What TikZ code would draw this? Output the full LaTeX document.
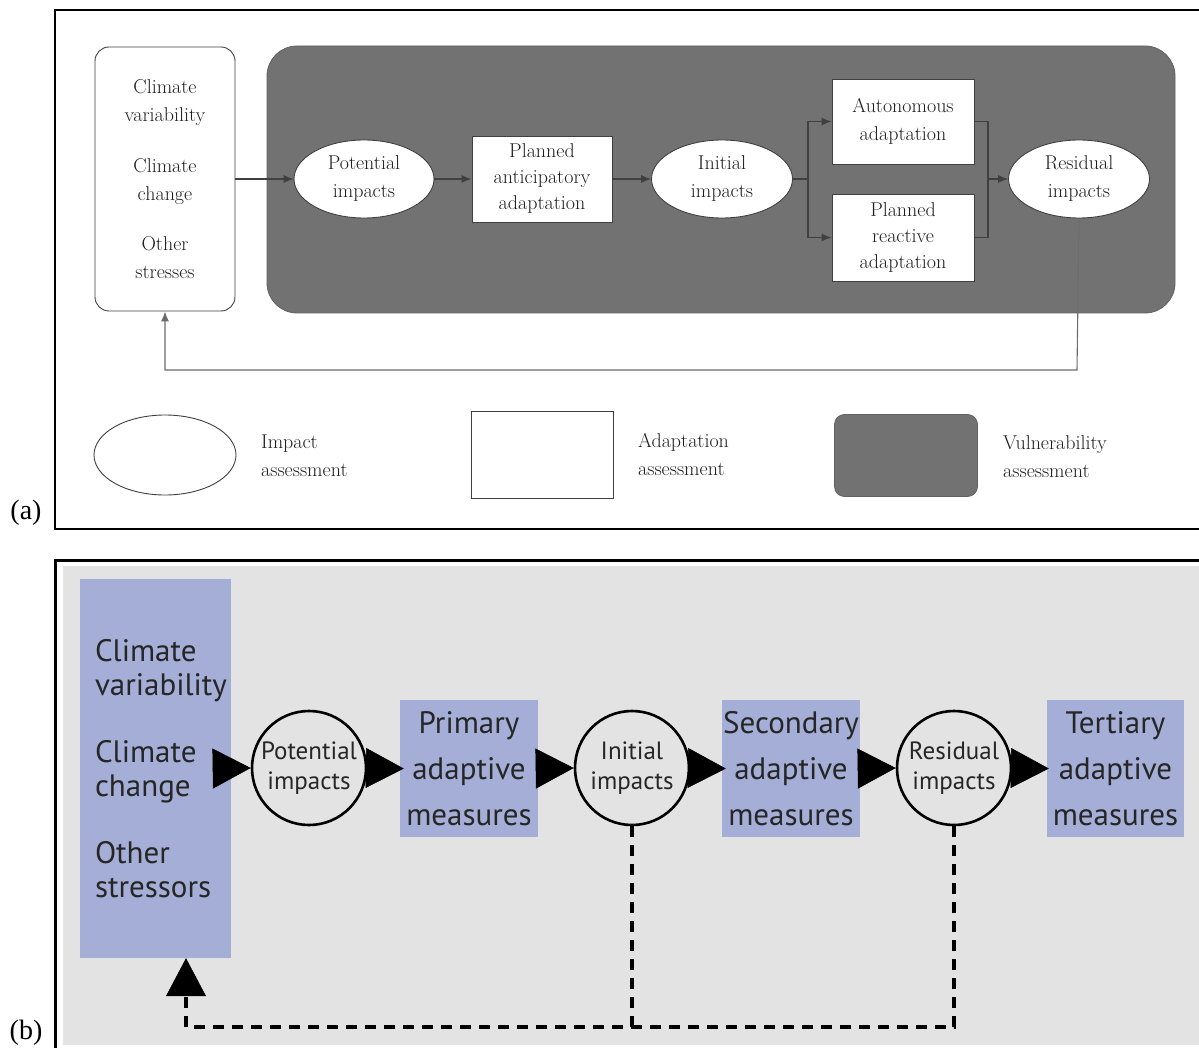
\documentclass[tikz,border=0pt]{standalone}
\usepackage{fontspec}
\newfontfamily\bsans{PT Sans}
\newfontfamily\lblfont{Liberation Serif}
\usetikzlibrary{arrows.meta,shapes.geometric}
\definecolor{vuln}{HTML}{727272}
\definecolor{ink}{HTML}{1E1E1E}
\definecolor{edge}{HTML}{404040}
\definecolor{panelbg}{HTML}{E3E3E3}
\definecolor{measure}{HTML}{A4AED6}

\begin{document}
\begin{tikzpicture}[x=1pt,y=-1pt,
  atext/.style={text=ink, font=\fontsize{20}{28}\selectfont, align=center, inner sep=0pt},
  aimpact/.style={atext, ellipse, draw=edge, line width=0.9pt, fill=white},
  aadapt/.style={atext, rectangle, draw=edge, line width=0.9pt, fill=white},
  avuln/.style={rectangle, fill=vuln, draw=vuln!85!black, line width=0.8pt},
  alink/.style={draw=edge, line width=1.1pt},
  aarrow/.style={alink, -{Latex[length=10pt,width=8pt]}},
  afeed/.style={draw=gray!85!black, line width=1.1pt, -{Latex[length=10pt,width=8pt]}},
  btext/.style={text=black!85, font=\bsans\fontsize{31}{46}\selectfont, align=center, inner sep=0pt},
  bmeasure/.style={btext, rectangle, fill=measure, minimum width=138, minimum height=137},
  bimpact/.style={circle, draw=black, line width=2.6pt, minimum size=114, inner sep=0pt,
    text=black!85, font=\bsans\fontsize{25}{30}\selectfont, align=center},
  barrow/.style={line width=0.5pt, -{Triangle[length=38pt,width=40pt]}},
  bfeed/.style={line width=3.2pt, dash pattern=on 11pt off 8pt},
  panellabel/.style={font=\lblfont\fontsize{28}{30}\selectfont, inner sep=0pt}
]
\useasboundingbox (0,0) rectangle (1199,1048);

% ---------------- panel (a) ----------------
\draw[line width=2.4pt] (1215,10) -| (55,529) -- (1215,529);
\node[panellabel] (la) at (26,513) {(a)};

% vulnerability assessment region
\node[avuln, rounded corners=30, minimum width=908, minimum height=267] (vul) at (721,179.5) {};

% stresses box
\node[atext, draw=edge, line width=0.9pt, fill=white, rounded corners=14,
      minimum width=140, minimum height=264] (src)
      at (165,179) {Climate\\variability\\[23pt]Climate\\change\\[22pt]Other\\stresses};

\node[aimpact, minimum width=140, minimum height=78] (pot) at (364,179) {Potential\\impacts};
\node[aadapt, minimum width=140, minimum height=86, font=\fontsize{20}{26}\selectfont] (ant) at (542,179) {Planned\\anticipatory\\adaptation};
\node[aimpact, minimum width=141, minimum height=78] (ini) at (722,179) {Initial\\impacts};
\node[aadapt, minimum width=142, minimum height=85] (aut) at (903,121.5) {Autonomous\\adaptation};
\node[aadapt, minimum width=142, minimum height=87, font=\fontsize{20}{26}\selectfont] (rea) at (903,237.5) {Planned\\reactive\\adaptation};
\node[aimpact, minimum width=141, minimum height=78] (res) at (1079,179) {Residual\\impacts};

\coordinate (split) at (808,179);
\coordinate (join) at (988,179);
\coordinate (loop) at (1077,370);

\draw[aarrow] (src.east) -- (pot.west);
\draw[aarrow] (pot.east) -- (ant.west);
\draw[aarrow] (ant.east) -- (ini.west);
\draw[alink] (ini.east) -- (split);
\draw[aarrow] (split) |- (aut.west);
\draw[aarrow] (split) |- (rea.west);
\draw[alink] (aut.east) -| (join);
\draw[alink] (rea.east) -| (join);
\draw[aarrow] (join) -- (res.west);
\draw[afeed] (res.south) -- (loop) -| (src.south);

% legend
\node[aimpact, minimum width=142, minimum height=80] (lgi) at (165,455) {};
\node[atext, anchor=west, align=left] (lgit) at (261,456) {Impact\\assessment};
\node[aadapt, minimum width=142, minimum height=87] (lga) at (542,454.5) {};
\node[atext, anchor=west, align=left] (lgat) at (638,455) {Adaptation\\assessment};
\node[avuln, rounded corners=10, minimum width=143, minimum height=82] (lgv) at (906,455.5) {};
\node[atext, anchor=west, align=left] (lgvt) at (1003,457) {Vulnerability\\assessment};

% ---------------- panel (b) ----------------
\fill[panelbg] (63,566) rectangle (1215,1045);
\draw[line width=3pt] (1215,560) -| (55,1060);
\node[panellabel] (lb) at (26,1033) {(b)};

\node[btext, rectangle, fill=measure, minimum width=151, minimum height=379,
      text width=121, align=left, font=\bsans\fontsize{31}{34}\selectfont]
      (stress) at (155.5,768.5) {Climate\\variability\\[33pt]Climate\\change\\[33pt]Other\\stressors};

\node[bimpact] (bpot) at (309,768) {Potential\\impacts};
\node[bmeasure] (prim) at (469,768.5) {Primary\\adaptive\\measures};
\node[bimpact] (bini) at (632,768) {Initial\\impacts};
\node[bmeasure] (sec) at (791,768.5) {Secondary\\adaptive\\measures};
\node[bimpact] (bres) at (954,768) {Residual\\impacts};
\node[bmeasure, minimum width=137] (ter) at (1115.5,768.5) {Tertiary\\adaptive\\measures};

\draw[barrow] (stress.east) ++(-17,0) -- (bpot.west);
\draw[barrow, shorten >=-4pt] (bpot.east) -- (prim.west);
\draw[barrow] (prim.east) -- (bini.west);
\draw[barrow, shorten >=-4pt] (bini.east) -- (sec.west);
\draw[barrow] (sec.east) -- (bres.west);
\draw[barrow, shorten >=-2pt] (bres.east) -- (ter.west);

\coordinate (fbturn) at (186,1027);
\draw[bfeed] (bres.south) |- (fbturn);
\draw[bfeed] (bini.south) -- (bini.south |- fbturn);
\draw[bfeed] (fbturn) -- (186,992);
\draw[line width=0.5pt, -{Triangle[length=38pt,width=40pt]}] (186,992) -- (fbturn |- stress.south);
\end{tikzpicture}
\end{document}
